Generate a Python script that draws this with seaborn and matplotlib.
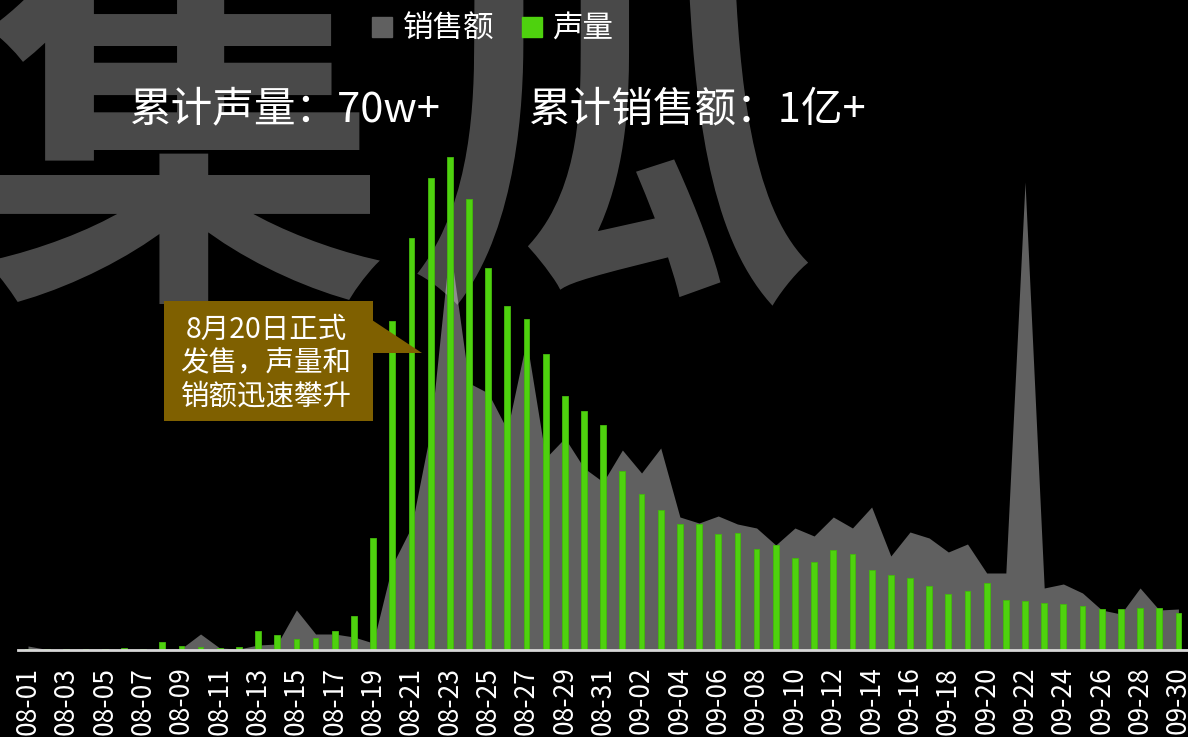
import numpy as np
import pandas as pd
import matplotlib
matplotlib.use("Agg")
import matplotlib.pyplot as plt
import seaborn as sns
from matplotlib.patches import Patch, Rectangle, Polygon

# ----------------------------
# 数据（从图上读出的相对值）
# ----------------------------
dates = [f"08-{d:02d}" for d in range(1, 32)] + [f"09-{d:02d}" for d in range(1, 31)]

# 声量（柱）
voice = [1, 1, 1, 1, 1, 2, 1, 8, 4, 3, 2.5, 3, 19, 15, 11, 12, 19, 34, 112, 329,
         412, 472, 493, 451, 382, 344, 331, 296, 254, 239, 225,
         179, 156, 140, 126, 126, 116, 117, 101, 105, 92, 88, 100, 96, 80, 75,
         72, 64, 56, 59, 67, 50, 49, 47, 46, 44, 41, 41, 42, 42, 37]

# 销售额（面积）
sales = [4, 0.5, 0.5, 1, 1, 0.5, 0.5, 1, 1.5, 16, 2, 1, 5, 6, 40, 16, 16, 13, 7, 85,
         123, 220, 405, 267, 257, 220, 310, 192, 212, 182, 168,
         200, 177, 202, 133, 127, 134, 126, 122, 105, 122, 114, 133, 122, 143, 94,
         118, 112, 98, 106, 77, 77, 468, 62, 66, 57, 40, 36, 62, 40, 41]

df = pd.DataFrame({"date": dates, "voice": voice, "sales": sales})

GREEN = "#4ed20e"
GRAY = "#606060"
BROWN = "#7f6000"

W, H = 1188, 737

sns.set_style("dark")
plt.rcParams["font.family"] = ["Noto Sans CJK SC", "DejaVu Sans"]

fig = plt.figure(figsize=(W / 100, H / 100), dpi=100, facecolor="black")
ax = fig.add_axes([18.4 / W, (H - 650) / H, 1 - 18.4 / W, 650 / H])
ax.set_facecolor("black")


def px(x, y):
    # 像素（左上角为原点）-> figure 坐标
    return x / W, 1 - y / H


# 柱状：声量
sns.barplot(data=df, x="date", y="voice", color=GREEN, saturation=1,
            width=0.3, ax=ax, zorder=3, edgecolor="#44b80c", linewidth=0.6)

# 面积：销售额
xs = np.arange(len(dates))
ax.fill_between(xs, df["sales"], 0, color=GRAY, lw=0, zorder=1)

# 背景水印
for ch, cx in [("集", 185), ("瓜", 612)]:
    ax.text(*px(cx, 268), ch, transform=fig.transFigure, fontsize=295,
            color="white", alpha=0.29, ha="center", va="baseline",
            fontweight="bold", zorder=2, clip_on=False)

ax.set_xlim(-0.5, len(dates) - 0.5)
ax.set_ylim(0, 650)
ax.set_xlabel("")
ax.set_ylabel("")
ax.set_yticks([])
ax.set_xticks(xs[::2])
ax.set_xticklabels(dates[::2], rotation=90, color="white", fontsize=19)
ax.tick_params(axis="x", length=0, pad=12)
ax.grid(False)
for s in ["top", "right", "left"]:
    ax.spines[s].set_visible(False)
ax.spines["bottom"].set_color("#d9d9d9")
ax.spines["bottom"].set_linewidth(2)
ax.spines["bottom"].set_zorder(4)

# 图例
handles = [Patch(color=GRAY, label="销售额"), Patch(color=GREEN, label="声量")]
leg = fig.legend(handles=handles, loc="center", bbox_to_anchor=px(493, 29), ncol=2,
                 frameon=False, fontsize=22, handlelength=0.65, handleheight=0.65,
                 handletextpad=0.35, columnspacing=0.9)
for t in leg.get_texts():
    t.set_color("white")

# 累计数据
fig.text(*px(130, 110), "累计声量：70w+", color="white", fontsize=30, va="center", ha="left")
fig.text(*px(529, 110), "累计销售额：1亿+", color="white", fontsize=30, va="center", ha="left")

# 标注框
x0, y0 = px(164, 421)
x1, y1 = px(373, 301)
fig.patches.append(Rectangle((x0, y0), x1 - x0, y1 - y0, transform=fig.transFigure,
                             facecolor=BROWN, edgecolor="none", zorder=5))
fig.patches.append(Polygon([px(372, 320), px(422, 353), px(372, 353)], closed=True,
                           transform=fig.transFigure, facecolor=BROWN,
                           edgecolor="none", zorder=5))
fig.text(*px(266, 363), "8月20日正式\n发售，声量和\n销额迅速攀升", color="white",
         fontsize=20.5, ha="center", va="center", linespacing=1.15, zorder=6)

fig.savefig("out.png", dpi=100, facecolor="black")
